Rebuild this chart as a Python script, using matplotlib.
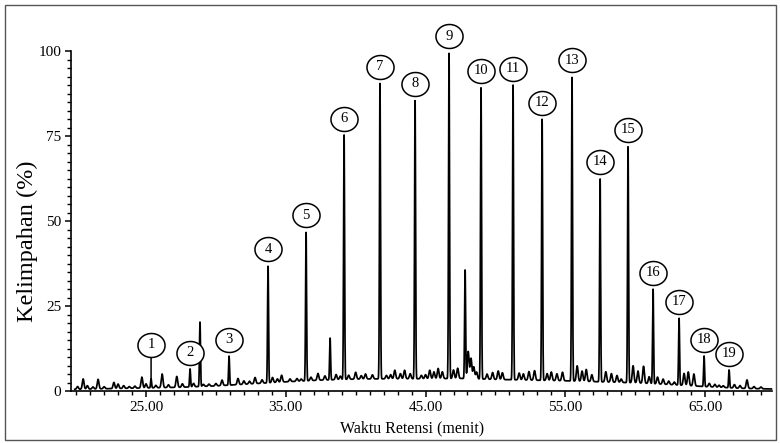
import numpy as np
import matplotlib
matplotlib.use("Agg")
import matplotlib.pyplot as plt
from matplotlib.path import Path
from matplotlib.transforms import offset_copy
from matplotlib.patches import Rectangle

plt.rcParams['font.family'] = ['Liberation Serif', 'DejaVu Serif']

# ---- data ----
# main peaks: retention time (min), abundance (%), label
peak_times = [25.36, 28.15, 28.86, 30.94, 33.73, 36.45, 38.17, 39.17, 41.74, 44.25,
              46.68, 47.83, 48.97, 51.26, 53.34, 55.48, 57.49, 59.49, 61.28, 63.14,
              64.93, 66.72]
peak_heights = [3.6, 6.5, 20.3, 10.3, 36.8, 46.8, 15.6, 75.3, 90.6, 85.6,
                99.5, 35.6, 89.4, 90.0, 80.0, 92.4, 62.6, 72.0, 30.0, 21.5,
                10.3, 6.2]
peak_labels = ['1', '2', '', '3', '4', '5', '', '6', '7', '8',
               '9', '', '10', '11', '12', '13', '14', '15', '16', '17',
               '18', '19']

# baseline level (%) read along the run
baseline_times = [19.9, 22.5, 25.0, 27.5, 30.0, 32.5, 35.0, 37.5, 40.0, 42.5,
                  45.0, 47.5, 50.0, 52.5, 55.0, 57.5, 60.0, 62.5, 65.0, 67.5, 69.7]
baseline_levels = [0.5, 0.7, 0.9, 1.1, 1.5, 2.1, 2.7, 3.2, 3.5, 3.6,
                   3.6, 3.7, 3.4, 3.2, 3.0, 2.7, 2.4, 1.9, 1.3, 0.8, 0.6]

# minor peaks: time (min), height above baseline (%)
minor_times = [20.1, 20.5, 20.8, 21.2, 21.57, 22.0, 22.7, 23.0, 23.4, 23.8, 24.2, 24.7,
               25.0, 25.7, 26.15, 26.6, 27.2, 27.6, 28.4, 29.1, 29.5, 30.0, 30.44,
               31.58, 32.0, 32.4, 32.8, 33.3, 34.05, 34.4, 34.7, 35.3, 35.8, 36.1,
               36.8, 37.3, 37.8, 38.6, 38.9, 39.5, 40.0, 40.4, 40.7, 41.2, 42.2,
               42.5, 42.8, 43.2, 43.5, 43.9, 44.7, 45.0, 45.3, 45.6, 45.9, 46.2,
               47.0, 47.3, 48.05, 48.25, 48.45, 48.65, 49.4, 49.8, 50.2, 50.5,
               51.7, 52.0, 52.4, 52.8, 53.7, 54.0, 54.4, 54.8, 55.85, 56.2, 56.5,
               56.9, 57.9, 58.3, 58.7, 59.0, 59.85, 60.2, 60.6, 61.0, 61.6, 62.0,
               62.4, 62.8, 63.5, 63.8, 64.2, 65.3, 65.7, 66.0, 66.3, 67.1, 67.5,
               68.0, 68.5, 69.0]
minor_heights = [0.8, 3.0, 1.0, 0.6, 2.8, 0.6, 1.8, 1.3, 0.8, 0.5, 0.6, 3.2,
                 1.2, 0.7, 4.0, 0.8, 3.2, 1.0, 1.0, 0.6, 0.6, 0.7, 1.6,
                 1.8, 1.0, 0.8, 1.8, 1.0, 1.5, 1.0, 2.0, 0.8, 0.8, 0.6,
                 1.0, 2.0, 1.2, 1.5, 1.0, 1.2, 2.0, 1.0, 1.5, 1.2, 1.0,
                 1.2, 2.5, 1.5, 2.5, 1.5, 1.0, 1.2, 2.5, 2.0, 3.0, 2.0,
                 2.5, 3.0, 8.0, 6.0, 3.5, 2.0, 1.5, 2.0, 2.5, 2.0,
                 2.0, 1.8, 2.5, 2.8, 2.0, 2.5, 2.0, 2.5, 4.5, 3.0, 3.5,
                 2.0, 3.0, 2.5, 2.0, 1.0, 5.0, 3.5, 5.0, 2.0, 2.0, 1.5,
                 1.0, 0.8, 3.5, 4.0, 3.5, 1.0, 0.8, 0.6, 0.5, 1.0, 0.8,
                 2.5, 0.6, 0.5]

x_major = [25, 35, 45, 55, 65]
x_major_labels = ['25.00', '35.00', '45.00', '55.00', '65.00']
y_major = [0, 25, 50, 75, 100]
y_major_labels = ['0', '25', '50', '75', '100']

# ---- build trace ----
t = np.linspace(19.9, 69.75, 6000)
signal = np.interp(t, baseline_times, baseline_levels)
for pt, ph in zip(peak_times, peak_heights):
    base = np.interp(pt, baseline_times, baseline_levels)
    signal += (ph - base) * np.exp(-0.5 * ((t - pt) / 0.035) ** 2)
for mt, mh in zip(minor_times, minor_heights):
    signal += mh * np.exp(-0.5 * ((t - mt) / 0.06) ** 2)

fig = plt.figure(figsize=(7.8, 4.43), dpi=100)
ax = fig.add_axes([71 / 780, 1 - 391 / 443, (772 - 71) / 780, (391 - 51) / 443])
ax.plot(t, signal, color='black', lw=1.25, clip_on=False)

ax.set_xlim(19.63, 69.79)
ax.set_ylim(0, 100)
for s in ['top', 'right']:
    ax.spines[s].set_visible(False)
for s in ['left', 'bottom']:
    ax.spines[s].set_linewidth(1.2)

ax.set_xticks(x_major)
ax.set_xticklabels(x_major_labels)
ax.set_xticks(np.arange(20, 70, 1), minor=True)
ax.set_yticks(y_major)
ax.set_yticklabels(y_major_labels)
ax.set_yticks(np.arange(0, 100.1, 2.5), minor=True)
ax.tick_params(axis='both', which='major', length=4, width=1.1, labelsize=11, pad=3)
ax.tick_params(axis='both', which='minor', length=3, width=1.0)

ax.set_xlabel('Waktu Retensi (menit)', fontsize=11.5)
ax.xaxis.set_label_coords(0.486, -0.085)
ax.set_ylabel('Kelimpahan (%)', fontsize=17.5)
ax.yaxis.set_label_coords(-0.047, 0.44)

# ellipse marker for peak labels
theta = np.linspace(0, 2 * np.pi, 80)
ell = Path(np.column_stack([1.13 * np.cos(theta), np.sin(theta)]), closed=True)

label_gap = 11.8  # points above peak tip
for pt, ph, lab in zip(peak_times, peak_heights, peak_labels):
    if not lab:
        continue
    gap = label_gap if lab != '1' else 24.5
    tr = offset_copy(ax.transData, fig=fig, x=0, y=gap, units='points')
    ax.plot([pt], [ph], marker=ell, ms=19.5, mfc='white', mec='black', mew=1.1,
            transform=tr, clip_on=False, zorder=4)
    ax.text(pt, ph, lab, transform=tr, ha='center', va='center', fontsize=10.5,
            zorder=5, clip_on=False)
    if lab == '1':
        ax.annotate('', xy=(pt, ph), xytext=(0, gap - 8.2), textcoords='offset points',
                    arrowprops=dict(arrowstyle='-', color='black', lw=1.1,
                                    shrinkA=0, shrinkB=0))

fig.patches.append(Rectangle((5 / 780, 3 / 443), 771 / 780, 435 / 443,
                             transform=fig.transFigure, fill=False,
                             edgecolor='#555555', lw=1.0))

fig.savefig('out.png', dpi=100)
